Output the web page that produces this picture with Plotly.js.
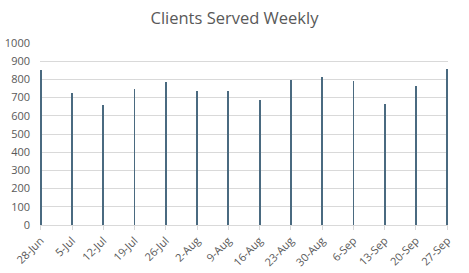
<!DOCTYPE html>
<html>
<head>
<meta charset="utf-8">
<script src="https://cdn.plot.ly/plotly-3.0.1.min.js"></script>
<style>html,body{margin:0;padding:0;background:#fff;}#chart{width:469px;height:273px;}</style>
</head>
<body>
<div id="chart"></div>
<script>
const weeks = ["2020-06-28","2020-07-05","2020-07-12","2020-07-19","2020-07-26","2020-08-02","2020-08-09","2020-08-16","2020-08-23","2020-08-30","2020-09-06","2020-09-13","2020-09-20","2020-09-27"];
const clients = [853, 728, 660, 748, 783, 734, 739, 688, 798, 811, 793, 666, 765, 859];
const yTicks = [0,100,200,300,400,500,600,700,800,900,1000];

const trace = {
  type: 'bar',
  x: weeks,
  y: clients,
  width: 0.4*86400000,
  marker: {color: '#4a6a80', line: {width: 0}},
  cliponaxis: false,
  hoverinfo: 'x+y'
};

const layout = {
  width: 469, height: 273,
  margin: {l: 40, r: 21, t: 43, b: 48},
  paper_bgcolor: '#ffffff', plot_bgcolor: '#ffffff',
  title: {text: 'Clients Served Weekly', x: 0.5, xanchor: 'center', y: 0.935, yanchor: 'middle',
          font: {family: 'Open Sans, sans-serif', size: 16.5, color: '#595959'}},
  font: {family: 'Open Sans, sans-serif', size: 11, color: '#595959'},
  showlegend: false,
  bargap: 0,
  xaxis: {
    type: 'date',
    range: ['2020-06-27 20:00', '2020-09-27 04:00'],
    tickvals: weeks,
    tickformat: '%-d-%b',
    tickangle: -45,
    ticks: 'outside', ticklen: 4, tickcolor: '#d9d9d9',
    showgrid: false,
    showline: true, linecolor: '#d9d9d9', linewidth: 1,
    tickfont: {size: 11, color: '#595959'},
    zeroline: false
  },
  yaxis: {
    range: [0, 1000],
    tickvals: yTicks,
    showgrid: true, gridcolor: '#d9d9d9', gridwidth: 1,
    zeroline: false, showline: false,
    ticks: '',
    tickfont: {size: 11, color: '#595959'},
    ticklabelstandoff: 9
  }
};

Plotly.newPlot('chart', [trace], layout, {displayModeBar: false, staticPlot: true});
</script>
</body>
</html>
